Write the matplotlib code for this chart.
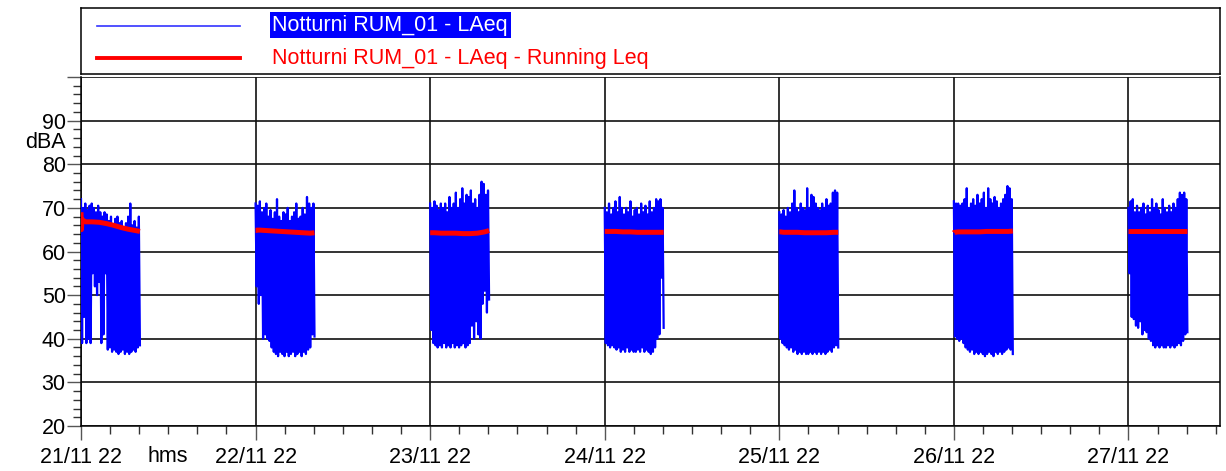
import numpy as np
import pandas as pd
import matplotlib
matplotlib.use("Agg")
import matplotlib.pyplot as plt
import matplotlib.dates as mdates
from matplotlib.ticker import MultipleLocator, FixedLocator

plt.rcParams['font.family'] = ['Liberation Sans', 'DejaVu Sans']

# ---------------------------------------------------------------------------
# dati: sette notti, LAeq (picchi e minimi alternati) e Running Leq
# ---------------------------------------------------------------------------
nights = ['2022-11-21', '2022-11-22', '2022-11-23', '2022-11-24',
          '2022-11-25', '2022-11-26', '2022-11-27']
night_hours = 8.1

peaks = [
    [72, 70, 71, 69.5, 70.5, 71, 70, 69, 70.5, 69, 68, 69, 68.5, 67, 68, 66, 67.5, 68, 66.5, 67, 65.5, 66.5, 68, 71, 66, 67, 65.5, 68],
    [71, 70.5, 71.5, 69, 70, 71, 68, 69.5, 67.5, 69, 72, 68, 67, 69, 68.5, 70, 67, 68, 69, 71, 67.5, 68, 70, 68.5, 72.5, 71, 70, 71],
    [71, 70, 71.5, 70.5, 69.5, 71, 70, 71, 69, 72.5, 70, 71, 73.5, 70, 72, 74.5, 71, 73, 72.5, 74, 71, 72, 70, 73, 76, 75.5, 73, 74],
    [70, 69, 71, 68.5, 70, 71.5, 69, 72.5, 70, 68.5, 70, 69, 71.5, 68, 69.5, 70, 68.5, 71, 69, 70.5, 68.5, 71.5, 69, 70, 72, 71.5, 72, 70],
    [69, 68.5, 69.5, 68, 70, 69, 71, 74, 70, 69, 71, 70, 69.5, 74.5, 70, 73, 72.5, 71, 70, 69.5, 71, 70, 72, 70.5, 71, 73.5, 74, 73.5],
    [71.5, 71, 71, 70.5, 71, 72, 74.5, 70, 71, 72, 70.5, 73, 71, 72, 73.5, 70, 74.5, 72, 71, 72.5, 71.5, 70, 71, 72, 73, 75, 74.5, 72],
    [70, 71.5, 72, 69, 70.5, 69, 70, 71, 68.5, 70.5, 69, 72, 70, 71, 69.5, 68.5, 72, 70, 69, 70.5, 69, 71, 70, 72, 73.5, 73, 73.5, 72],
]
troughs = [
    [39, 45, 39, 40, 39, 55, 52, 50, 53, 39, 41, 55, 37.5, 38, 37, 37.5, 37, 36.5, 37, 37.5, 36.5, 37, 36.5, 37, 37.5, 37, 38, 38.5],
    [52, 48, 50, 40, 41, 40, 39.5, 38, 37, 36.5, 36, 37, 36.5, 36, 37, 36, 36.5, 37, 36, 36.5, 37, 36, 37, 36.5, 37.5, 38, 41, 40.5],
    [42, 39, 38.5, 38, 38.5, 38, 39, 38, 38.5, 38, 39, 38, 38.5, 38, 38.5, 39, 38, 38.5, 39, 43, 40, 44, 41, 40, 48, 51, 46, 49],
    [39, 38.5, 38, 38.5, 38, 37.5, 38, 37, 37.5, 37, 38, 37, 37.5, 37, 37, 37.5, 37, 38, 37, 37.5, 37, 36.5, 37, 38, 40, 41, 54, 42.5],
    [40, 39, 38.5, 38, 37.5, 38, 37, 37.5, 36.5, 37, 36.5, 37, 36.5, 36.5, 37, 36.5, 37, 36.5, 37, 36.5, 37, 36.5, 37, 37.5, 37, 38, 38.5, 38],
    [40.5, 40, 39.5, 40, 39, 38, 37.5, 37, 37.5, 36.5, 37, 36.5, 37, 36.5, 36, 36.5, 37, 36.5, 36, 37, 36.5, 37, 36.5, 37, 37.5, 38, 37.5, 36.5],
    [55, 45, 44.5, 43, 42.5, 44, 41, 42, 41.5, 40, 39.5, 38.5, 38, 38.5, 38, 38.5, 38, 38, 38.5, 38, 38.5, 38, 38.5, 39, 38.5, 39.5, 41, 41.5],
]

leq_hours = [0, 0.05, 0.15, 0.6, 1.5, 2.5, 3.5, 4.5, 5.5, 6.5, 7.5, 8.1]
running_leq = [
    [69, 65, 67.3, 66.8, 66.8, 66.7, 66.4, 66.0, 65.5, 65.1, 64.8, 64.6],
    [64.8, 64.8, 64.9, 64.9, 64.8, 64.7, 64.6, 64.5, 64.4, 64.3, 64.2, 64.3],
    [64.3, 64.3, 64.3, 64.3, 64.2, 64.2, 64.2, 64.1, 64.1, 64.2, 64.5, 64.8],
    [64.6, 64.6, 64.6, 64.6, 64.6, 64.5, 64.5, 64.4, 64.4, 64.4, 64.4, 64.4],
    [64.5, 64.5, 64.5, 64.4, 64.4, 64.4, 64.3, 64.3, 64.3, 64.3, 64.4, 64.4],
    [64.3, 64.4, 64.4, 64.5, 64.5, 64.5, 64.5, 64.6, 64.6, 64.6, 64.6, 64.7],
    [64.6, 64.6, 64.6, 64.6, 64.6, 64.6, 64.6, 64.6, 64.6, 64.6, 64.6, 64.6],
]

label_laeq = 'Notturni RUM_01 - LAeq'
label_leq = 'Notturni RUM_01 - LAeq - Running Leq'

# ---------------------------------------------------------------------------
fig = plt.figure(figsize=(12.26, 4.71), dpi=100)
ax = fig.add_axes([81 / 1226, 1 - 426 / 471, 1139 / 1226, 349 / 471])

for day, pk, tr, lq in zip(nights, peaks, troughs, running_leq):
    start = pd.Timestamp(day)
    vals = np.empty(len(pk) + len(tr))
    vals[0::2] = pk
    vals[1::2] = tr
    hrs = np.linspace(0, night_hours, len(vals))
    t = start + pd.to_timedelta(hrs, unit='h')
    ax.plot(t, vals, color='#0000ff', lw=1.6, zorder=3)
    tl = start + pd.to_timedelta(leq_hours, unit='h')
    ax.plot(tl, lq, color='#ff0000', lw=3.6, solid_capstyle='butt', zorder=4)

ax.set_ylim(20, 100)
ax.set_xlim(pd.Timestamp('2022-11-21'), pd.Timestamp('2022-11-27 12:35'))

ax.yaxis.set_major_locator(FixedLocator(range(20, 101, 10)))
ax.set_yticklabels([str(v) for v in range(20, 100, 10)] + [''])
ax.yaxis.set_minor_locator(MultipleLocator(2))
ax.xaxis.set_major_locator(mdates.DayLocator())
ax.xaxis.set_major_formatter(mdates.DateFormatter('%d/%m %y'))
ax.xaxis.set_minor_locator(mdates.HourLocator(byhour=range(0, 24, 4)))

ax.tick_params(axis='both', which='major', labelsize=15.5, width=1.0, color='#555555')
ax.tick_params(axis='y', which='major', length=10, pad=1)
ax.tick_params(axis='x', which='major', length=10, pad=5)
ax.tick_params(axis='both', which='minor', length=6, width=1.0, color='#333333')

ax.grid(True, which='major', color='#111111', lw=1.2)
for s in ['left', 'bottom', 'right']:
    ax.spines[s].set_color('black')
    ax.spines[s].set_linewidth(1.1)
ax.spines['top'].set_visible(False)

fig.text(66 / 1226, 1 - 143 / 471, 'dBA', ha='right', va='center', fontsize=15.5)
fig.text(168 / 1226, 1 - 456 / 471, 'hms', ha='center', va='center', fontsize=15.5)

# legenda disegnata a mano
lax = fig.add_axes([81 / 1226, 1 - 74 / 471, 1139 / 1226, 66 / 471])
lax.set_xlim(0, 1)
lax.set_ylim(0, 1)
lax.set_xticks([])
lax.set_yticks([])
for s in lax.spines.values():
    s.set_color('black')
    s.set_linewidth(1.1)
lax.plot([0.014, 0.14], [0.73, 0.73], color='#3333ff', lw=1.2)
lax.plot([0.014, 0.14], [0.25, 0.25], color='#ff0000', lw=2.8)
lax.text(0.168, 0.74, label_laeq, color='white', fontsize=15.5, va='center', ha='left',
         bbox=dict(facecolor='#0000ff', edgecolor='none', pad=2))
lax.text(0.168, 0.24, label_leq, color='#ff0000', fontsize=15.5, va='center', ha='left')

fig.savefig('out.png', dpi=100)
